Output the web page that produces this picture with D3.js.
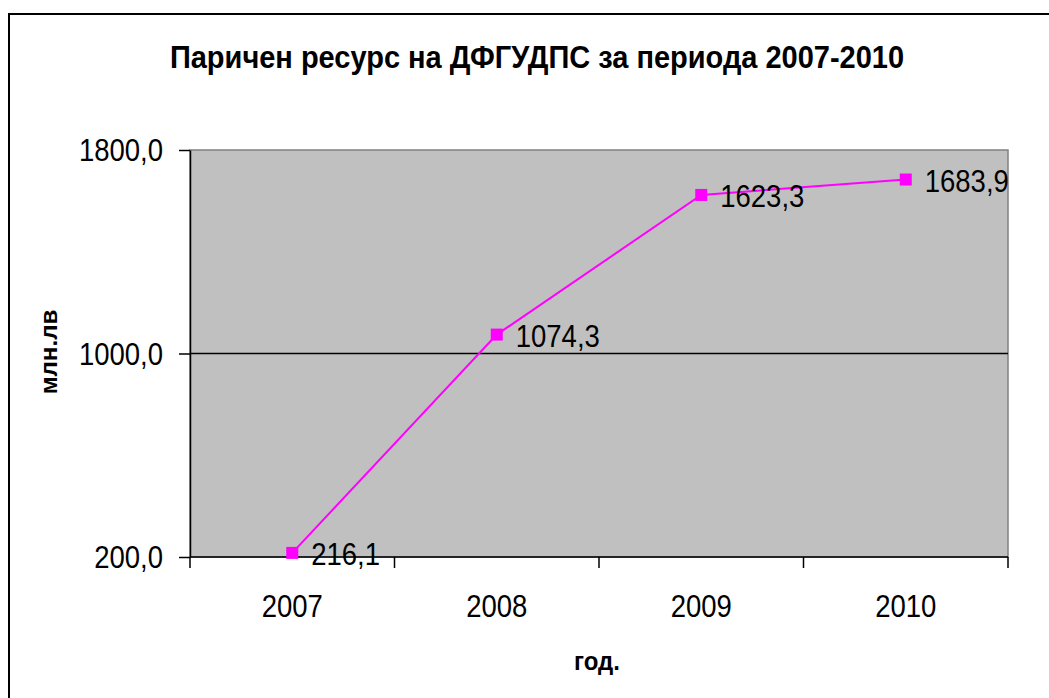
<!DOCTYPE html>
<html>
<head>
<meta charset="utf-8">
<script src="https://cdn.jsdelivr.net/npm/d3@7"></script>
<style>
  html, body { margin: 0; padding: 0; background: #fff; }
  svg { display: block; }
</style>
</head>
<body>
<svg id="chart"></svg>
<script>
// data
const years = ["2007", "2008", "2009", "2010"];
const values = [216.1, 1074.3, 1623.3, 1683.9];
const yTicks = [200, 1000, 1800];

const chartTitle = "Паричен ресурс на ДФГУДПС за периода 2007-2010";
const yTitle = "млн.лв";
const xTitle = "год.";

let width = 1049
let height = 698
let stretch = 1.15 // the picture is a bit taller than wide in its text

const svg = d3.select("#chart")
    .attr("width", width)
    .attr("height", height)
    .attr("font-family", "'Liberation Sans', Arial, sans-serif");

const plot = {left: 190, top: 150, right: 1008, bottom: 557};

let fmt = d3.formatLocale({decimal: ",", thousands: "", grouping: [3], currency: ["", ""]}).format(".1f")

const x = d3.scaleBand()
    .domain(years)
    .range([plot.left, plot.right]);

const y = d3.scaleLinear()
    .domain([200, 1800])
    .range([plot.bottom, plot.top]);

// outer frame
svg.append("rect")
    .attr("x", 9).attr("y", 14)
    .attr("width", 1100).attr("height", 800)
    .attr("fill", "none")
    .attr("stroke", "#000")
    .attr("stroke-width", 2);

// plot area
svg.append("rect")
    .attr("x", plot.left).attr("y", plot.top)
    .attr("width", plot.right - plot.left)
    .attr("height", plot.bottom - plot.top)
    .attr("fill", "#c0c0c0")
    .attr("stroke", "#808080")
    .attr("stroke-width", 1.5);

// gridlines
svg.append("g")
  .selectAll("line")
  .data(yTicks.slice(1, -1))
  .join("line")
    .attr("x1", plot.left).attr("x2", plot.right)
    .attr("y1", d => y(d)).attr("y2", d => y(d))
    .attr("stroke", "#000")
    .attr("stroke-width", 1.5);

// y axis
const yAxis = svg.append("g")
    .attr("transform", `translate(${plot.left},0)`)
    .call(d3.axisLeft(y).tickValues(yTicks).tickSize(11).tickSizeOuter(0).tickFormat(""));
yAxis.select(".domain").attr("stroke", "#000").attr("stroke-width", 1.5);
yAxis.selectAll(".tick line").attr("stroke", "#000").attr("stroke-width", 1.5);

svg.append("g")
  .selectAll("text")
  .data(yTicks)
  .join("text")
    .attr("transform", d => `translate(${plot.left - 27},${y(d) + 11}) scale(1,${stretch})`)
    .attr("text-anchor", "end")
    .attr("font-size", 27.5)
    .text(d => fmt(d));

// x axis
svg.append("line")
    .attr("x1", plot.left).attr("x2", plot.right)
    .attr("y1", plot.bottom).attr("y2", plot.bottom)
    .attr("stroke", "#000")
    .attr("stroke-width", 1.5);

const xTickPos = years.map(d => x(d)).concat([plot.right]);
svg.append("g")
  .selectAll("line")
  .data(xTickPos)
  .join("line")
    .attr("x1", d => d).attr("x2", d => d)
    .attr("y1", plot.bottom).attr("y2", plot.bottom + 11)
    .attr("stroke", "#000")
    .attr("stroke-width", 1.5);

svg.append("g")
  .selectAll("text")
  .data(years)
  .join("text")
    .attr("transform", d => `translate(${x(d) + x.bandwidth() / 2},617) scale(1,${stretch})`)
    .attr("text-anchor", "middle")
    .attr("font-size", 27.5)
    .text(d => d);

// series
const pts = years.map((d, i) => ({year: d, value: values[i]}));

svg.append("path")
    .datum(pts)
    .attr("fill", "none")
    .attr("stroke", "#ff00ff")
    .attr("stroke-width", 2)
    .attr("d", d3.line()
      .x(d => x(d.year) + x.bandwidth() / 2)
      .y(d => y(d.value)));

svg.append("g")
  .selectAll("rect")
  .data(pts)
  .join("rect")
    .attr("x", d => x(d.year) + x.bandwidth() / 2 - 6)
    .attr("y", d => y(d.value) - 6)
    .attr("width", 12).attr("height", 12)
    .attr("fill", "#ff00ff");

svg.append("g")
  .selectAll("text")
  .data(pts)
  .join("text")
    .attr("transform", d => `translate(${x(d.year) + x.bandwidth() / 2 + 19},${y(d.value) + 12}) scale(1,${stretch})`)
    .attr("font-size", 27.5)
    .text(d => fmt(d.value));

// titles
svg.append("text")
    .attr("transform", `translate(537,68) scale(1,1.05)`)
    .attr("text-anchor", "middle")
    .attr("font-size", 29)
    .attr("font-weight", "bold")
    .text(chartTitle);

svg.append("text")
    .attr("transform", `translate(57,352) scale(1,1.05) rotate(-90)`)
    .attr("text-anchor", "middle")
    .attr("font-size", 23)
    .attr("font-weight", "bold")
    .text(yTitle);

svg.append("text")
    .attr("transform", `translate(597,670) scale(1,1.05)`)
    .attr("text-anchor", "middle")
    .attr("font-size", 24)
    .attr("font-weight", "bold")
    .text(xTitle);
</script>
</body>
</html>
